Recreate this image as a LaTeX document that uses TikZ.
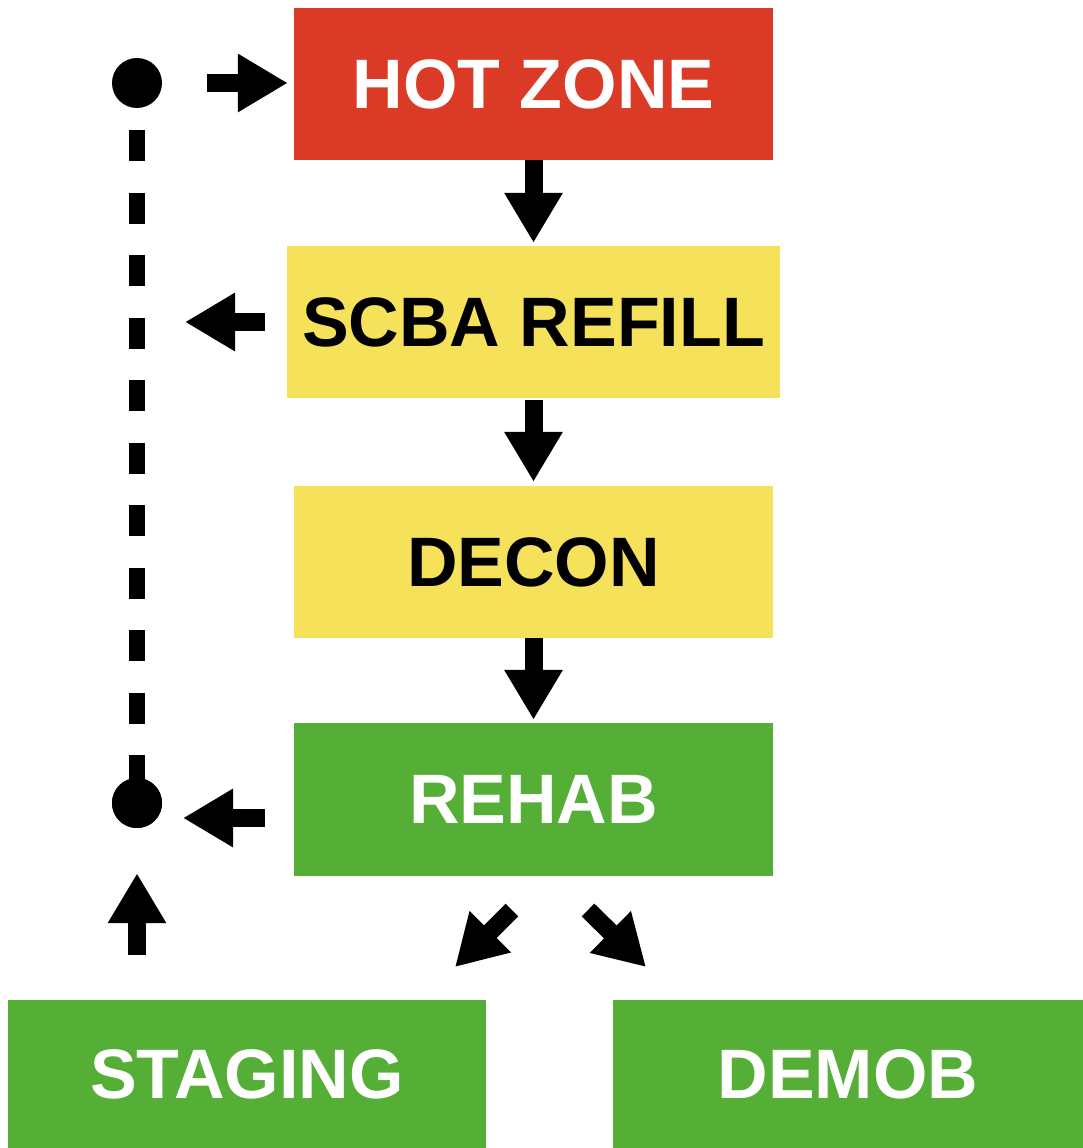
\documentclass[tikz,border=0pt]{standalone}
\usepackage{fontspec}
\setmainfont{Liberation Sans}
\usetikzlibrary{arrows.meta}

\definecolor{hotred}{HTML}{DB3B26}
\definecolor{warmyellow}{HTML}{F5E15A}
\definecolor{coldgreen}{HTML}{55AE35}

\tikzset{
  zone/.style={rectangle, draw=none, inner sep=0pt,
    font=\fontsize{70}{84}\selectfont\bfseries},
  blk/.style={line width=18pt, draw=black,
    -{Triangle[width=55pt,length=50pt]}},
  dot/.style={circle, fill=black, minimum size=50pt, inner sep=0pt},
  loopline/.style={line width=16pt, draw=black, dash pattern=on 31pt off 31.5pt}
}

\begin{document}
\begin{tikzpicture}[x=1pt, y=-1pt]
  \useasboundingbox (0,0) rectangle (1083,1148);

  % zone boxes
  \node[zone, fill=hotred, text=white, minimum width=479pt, minimum height=152pt]
    (hot) at (533.5,84) {HOT ZONE};
  \node[zone, fill=warmyellow, text=black, minimum width=493pt, minimum height=152pt]
    (scba) at (533.5,322) {SCBA REFILL};
  \node[zone, fill=warmyellow, text=black, minimum width=479pt, minimum height=152pt]
    (decon) at (533.5,562) {DECON};
  \node[zone, fill=coldgreen, text=white, minimum width=479pt, minimum height=153pt]
    (rehab) at (533.5,799.5) {REHAB};
  \node[zone, fill=coldgreen, text=white, minimum width=478pt, minimum height=148pt]
    (staging) at (247,1074) {STAGING};
  \node[zone, fill=coldgreen, text=white, minimum width=470pt, minimum height=148pt]
    (demob) at (848,1074) {DEMOB};

  % loop-back dots and free ends
  \node[dot] (dottop) at (137,83) {};
  \node[dot] (dotbot) at (137,803) {};
  \coordinate (dashtop) at (137,130);
  \coordinate (scbaout) at (185,322);
  \coordinate (rehabout) at (183,818);
  \coordinate (upstart) at (137,955);
  \coordinate (dlstart) at (512,910);
  \coordinate (dlend) at (455,967);
  \coordinate (drstart) at (588,910);
  \coordinate (drend) at (646,967);

  % dashed return line
  \draw[loopline] (dashtop) -- (dotbot.center);
  \node[dot] at (dotbot) {};

  % main flow
  \draw[blk, shorten >=3pt] (hot.south) -- (scba.north);
  \draw[blk, shorten <=2pt, shorten >=4pt] (scba.south) -- (decon.north);
  \draw[blk, shorten >=3pt] (decon.south) -- (rehab.north);

  % side arrows
  \draw[blk, shorten <=45pt, shorten >=6pt] (dottop) -- (hot.west |- dottop);
  \draw[blk, shorten <=22pt] (scba.west) -- (scbaout);
  \draw[blk, shorten <=29pt] (rehab.west |- rehabout) -- (rehabout);
  \draw[blk, shorten >=45pt] (upstart) -- (dotbot);

  % exits from rehab
  \draw[blk] (dlstart) -- (dlend);
  \draw[blk] (drstart) -- (drend);
\end{tikzpicture}
\end{document}
